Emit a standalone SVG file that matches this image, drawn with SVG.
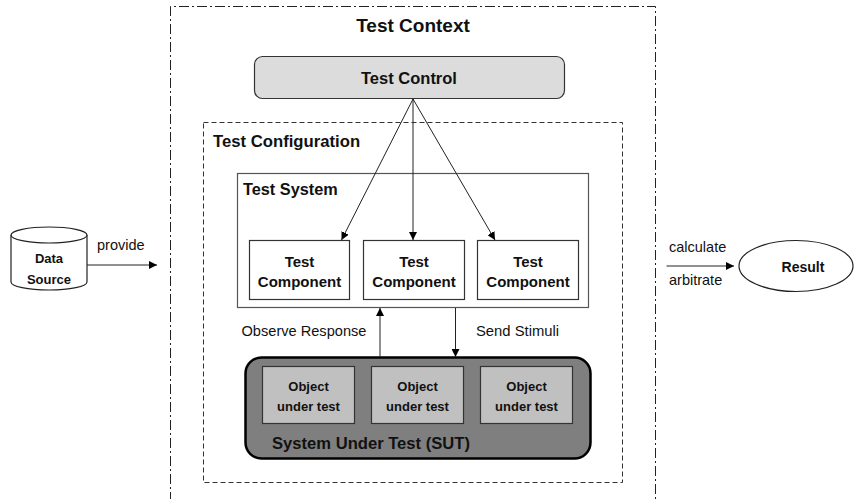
<svg xmlns="http://www.w3.org/2000/svg" width="855" height="499" viewBox="0 0 855 499">
  <defs>
    <marker id="arrow" viewBox="0 0 10 10" refX="10" refY="5" markerWidth="8" markerHeight="8" markerUnits="userSpaceOnUse" orient="auto">
      <path d="M0,0 L10,5 L0,10 Z" fill="#000"/>
    </marker>
    <style>
      text { font-family: "Liberation Sans", Arial, sans-serif; fill: #111; }
      .b { font-weight: bold; }
      .mid { text-anchor: middle; }
      .conn { stroke: #222; stroke-width: 1; fill: none; marker-end: url(#arrow); }
      .box { fill: #fff; stroke: #333; stroke-width: 1.2; }
      .obj { fill: #c0c0c0; stroke: #333; stroke-width: 1.2; }
    </style>
  </defs>

  <!-- test context boundary (dash-dot) -->
  <g id="test-context">
    <path d="M170.5,520 L170.5,6.5 L655.5,6.5 L655.5,520" fill="none" stroke="#222" stroke-width="1" stroke-dasharray="10,3,2,3"/>
    <text class="b mid" x="413" y="32" font-size="19">Test Context</text>
  </g>

  <!-- test configuration boundary (dashed) -->
  <g id="test-configuration">
    <rect x="203.5" y="122.5" width="419" height="360" fill="none" stroke="#333" stroke-width="1" stroke-dasharray="5,3"/>
    <text class="b" x="213" y="147" font-size="16.7">Test Configuration</text>
  </g>

  <g id="test-control">
    <rect x="254.5" y="56.5" width="310" height="42" rx="8" fill="#dcdcdc" stroke="#333" stroke-width="1.2"/>
    <text class="b mid" x="409" y="83.5" font-size="16.5">Test Control</text>
  </g>

  <g id="test-system">
    <rect x="237.5" y="173.5" width="351" height="134" fill="#fff" stroke="#555" stroke-width="1.2"/>
    <text class="b" x="243" y="195" font-size="16.3">Test System</text>
  </g>

  <g id="test-component-1">
    <rect class="box" x="249.5" y="240.5" width="100" height="59"/>
    <text class="b mid" x="299.5" y="266.5" font-size="15">Test</text>
    <text class="b mid" x="299.5" y="286.5" font-size="15">Component</text>
  </g>
  <g id="test-component-2">
    <rect class="box" x="363.5" y="240.5" width="101" height="59"/>
    <text class="b mid" x="414" y="266.5" font-size="15">Test</text>
    <text class="b mid" x="414" y="286.5" font-size="15">Component</text>
  </g>
  <g id="test-component-3">
    <rect class="box" x="477.5" y="240.5" width="101" height="59"/>
    <text class="b mid" x="528" y="266.5" font-size="15">Test</text>
    <text class="b mid" x="528" y="286.5" font-size="15">Component</text>
  </g>

  <g id="sut">
    <rect x="245.5" y="357.5" width="345" height="101" rx="16" fill="#7f7f7f" stroke="#000" stroke-width="2.5"/>
    <text class="b" x="272" y="448.5" font-size="16.6" fill="#000">System Under Test (SUT)</text>
  </g>

  <g id="object-under-test-1">
    <rect class="obj" x="262.5" y="366.5" width="92" height="57"/>
    <text class="b mid" x="308.5" y="390.5" font-size="13">Object</text>
    <text class="b mid" x="308.5" y="410.5" font-size="13">under test</text>
  </g>
  <g id="object-under-test-2">
    <rect class="obj" x="371.5" y="366.5" width="92" height="57"/>
    <text class="b mid" x="417.5" y="390.5" font-size="13">Object</text>
    <text class="b mid" x="417.5" y="410.5" font-size="13">under test</text>
  </g>
  <g id="object-under-test-3">
    <rect class="obj" x="480.5" y="366.5" width="92" height="57"/>
    <text class="b mid" x="526.5" y="390.5" font-size="13">Object</text>
    <text class="b mid" x="526.5" y="410.5" font-size="13">under test</text>
  </g>

  <g id="data-source">
    <path d="M11,235 L11,282 A38,8 0 0 0 87,282 L87,235" fill="#fff" stroke="#222" stroke-width="1.2"/>
    <ellipse cx="49" cy="235" rx="38" ry="8" fill="#fff" stroke="#222" stroke-width="1.2"/>
    <text class="b mid" x="49" y="262.5" font-size="13">Data</text>
    <text class="b mid" x="49" y="283.5" font-size="13">Source</text>
  </g>

  <g id="result">
    <ellipse cx="796" cy="266" rx="57" ry="25.5" fill="#fff" stroke="#222" stroke-width="1.2"/>
    <text class="b mid" x="803" y="271.5" font-size="14">Result</text>
  </g>

  <!-- connectors -->
  <g id="connectors">
    <line class="conn" x1="413" y1="99" x2="341.5" y2="240"/>
    <line class="conn" x1="413" y1="99" x2="413" y2="240"/>
    <line class="conn" x1="413" y1="99" x2="495" y2="240"/>
    <line class="conn" x1="380" y1="357" x2="380" y2="308"/>
    <line class="conn" x1="455.5" y1="308" x2="455.5" y2="357"/>
    <line class="conn" x1="87" y1="265" x2="157" y2="265"/>
    <line class="conn" x1="666.5" y1="266" x2="734" y2="266"/>
    <text x="241.5" y="336" font-size="14.6">Observe Response</text>
    <text x="476" y="336" font-size="14.8">Send Stimuli</text>
    <text x="97" y="250" font-size="14.5">provide</text>
    <text x="669" y="252" font-size="14.5">calculate</text>
    <text x="669" y="285" font-size="14.5">arbitrate</text>
  </g>
</svg>
